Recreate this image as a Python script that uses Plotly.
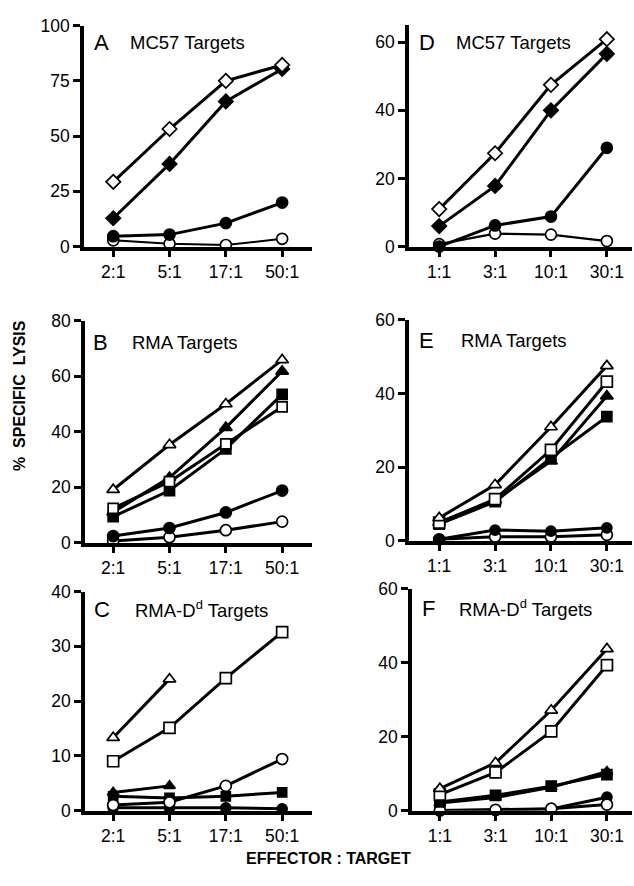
import plotly.graph_objects as go

# ---- tick labels (effector : target ratios) ----
ratios_left = ["2:1", "5:1", "17:1", "50:1"]
ratios_right = ["1:1", "3:1", "10:1", "30:1"]

# ---- Panel A: MC57 targets ----
A_open_diamond = [29.3, 53.2, 75.0, 82.2]
A_filled_diamond = [12.8, 37.4, 65.7, 80.4]
A_filled_circle = [4.7, 5.4, 10.6, 19.9]
A_open_circle = [2.8, 1.3, 0.7, 3.5]

# ---- Panel B: RMA targets ----
B_open_triangle = [19.1, 35.3, 50.0, 65.9]
B_filled_triangle = [11.0, 23.5, 41.5, 61.8]
B_filled_square = [9.4, 18.8, 33.8, 53.5]
B_open_square = [12.4, 22.0, 35.6, 49.0]
B_filled_circle = [2.4, 5.3, 10.9, 18.8]
B_open_circle = [0.6, 2.0, 4.5, 7.6]

# ---- Panel C: RMA-Dd targets ----
C_open_triangle = [13.3, 24.0]
C_open_square = [9.0, 15.1, 24.2, 32.6]
C_open_circle = [1.0, 1.5, 4.5, 9.4]
C_filled_triangle = [3.3, 4.5]
C_filled_square = [2.6, 2.3, 2.6, 3.3]
C_filled_circle = [0.5, 0.5, 0.5, 0.3]

# ---- Panel D: MC57 targets ----
D_open_diamond = [11.0, 27.4, 47.5, 60.9]
D_filled_diamond = [6.0, 17.8, 40.0, 56.6]
D_filled_circle = [0.0, 6.2, 8.8, 29.0]
D_open_circle = [0.7, 3.8, 3.5, 1.6]

# ---- Panel E: RMA targets ----
E_open_triangle = [6.2, 15.2, 30.9, 47.5]
E_open_square = [4.9, 11.3, 24.7, 43.2]
E_filled_triangle = [5.0, 11.0, 21.6, 39.3]
E_filled_square = [4.5, 10.6, 22.5, 33.7]
E_filled_circle = [0.4, 2.9, 2.6, 3.5]
E_open_circle = [0.4, 1.1, 1.1, 1.6]

# ---- Panel F: RMA-Dd targets ----
F_open_triangle = [5.9, 12.9, 27.1, 43.7]
F_open_square = [4.3, 10.3, 21.4, 39.3]
F_filled_triangle = [2.0, 3.5, 6.3, 10.5]
F_filled_square = [2.3, 4.1, 6.6, 9.7]
F_filled_circle = [0.0, 0.0, 0.4, 3.6]
F_open_circle = [0.0, 0.2, 0.5, 1.6]

W, H = 634, 886
FONT = "Liberation Sans, Arial, Helvetica, sans-serif"

fig = go.Figure()


def add(x, y, symbol, filled, ax, size=9, lw=3):
    fig.add_trace(go.Scatter(
        x=x, y=y, mode="lines+markers",
        xaxis="x" + ax, yaxis="y" + ax,
        line=dict(color="black", width=lw),
        marker=dict(symbol=symbol, size=size,
                    color="black" if filled else "white",
                    line=dict(color="black", width=1.7)),
        cliponaxis=False, showlegend=False, hoverinfo="skip"))


# Panel A (axes 1)
add(ratios_left, A_open_circle, "circle", False, "", size=11, lw=2.0)
add(ratios_left, A_filled_circle, "circle", True, "", size=11)
add(ratios_left, A_filled_diamond, "diamond", True, "", size=11)
add(ratios_left, A_open_diamond, "diamond", False, "", size=11)

# Panel B (axes 2)
add(ratios_left, B_open_circle, "circle", False, "2", size=11)
add(ratios_left, B_filled_circle, "circle", True, "2", size=11)
add(ratios_left, B_filled_square, "square", True, "2", size=10)
add(ratios_left, B_filled_triangle, "triangle-up", True, "2", size=11)
add(ratios_left, B_open_square, "square", False, "2", size=10)
add(ratios_left, B_open_triangle, "triangle-up", False, "2", size=11)

# Panel C (axes 3)
add(ratios_left, C_filled_circle, "circle", True, "3", size=10)
add(ratios_left, C_filled_square, "square", True, "3", size=9)
add(ratios_left[:2], C_filled_triangle, "triangle-up", True, "3", size=10)
add(ratios_left, C_open_circle, "circle", False, "3", size=11)
add(ratios_left, C_open_square, "square", False, "3", size=11)
add(ratios_left[:2], C_open_triangle, "triangle-up", False, "3", size=11)

# Panel D (axes 4)
add(ratios_right, D_open_circle, "circle", False, "4", size=11, lw=2.2)
add(ratios_right, D_filled_circle, "circle", True, "4", size=11)
add(ratios_right, D_filled_diamond, "diamond", True, "4", size=11)
add(ratios_right, D_open_diamond, "diamond", False, "4", size=11)

# Panel E (axes 5)
add(ratios_right, E_open_circle, "circle", False, "5", size=11)
add(ratios_right, E_filled_circle, "circle", True, "5", size=10)
add(ratios_right, E_filled_square, "square", True, "5", size=10)
add(ratios_right, E_filled_triangle, "triangle-up", True, "5", size=11)
add(ratios_right, E_open_square, "square", False, "5", size=11)
add(ratios_right, E_open_triangle, "triangle-up", False, "5", size=11)

# Panel F (axes 6)
add(ratios_right, F_filled_circle, "circle", True, "6", size=10)
add(ratios_right, F_open_circle, "circle", False, "6", size=11)
add(ratios_right, F_filled_triangle, "triangle-up", True, "6", size=10)
add(ratios_right, F_filled_square, "square", True, "6", size=10)
add(ratios_right, F_open_square, "square", False, "6", size=11)
add(ratios_right, F_open_triangle, "triangle-up", False, "6", size=11)


def px_x(a, b):
    return [a / W, b / W]


def px_y(bottom, top):
    return [(H - bottom) / H, (H - top) / H]


axis_common = dict(showgrid=False, zeroline=False, showline=True,
                   linecolor="black", linewidth=3.5, ticks="outside",
                   ticklen=7, tickwidth=2.5, tickcolor="black",
                   tickfont=dict(family=FONT, size=17.5, color="black"),
                   fixedrange=True)

panels = [
    # suffix, x-domain px, y-domain px (bottom, top), yrange, dtick, xrange
    ("", (84, 312), (242, 16), [0, 100], 25, [-0.52, 3.53]),
    ("2", (85, 312), (545, 318), [0, 80], 20, [-0.5, 3.53]),
    ("3", (85, 312), (819, 595), [0, 40], 10, [-0.5, 3.53]),
    ("4", (409, 632), (242, 15.6), [0, 65], 20, [-0.54, 3.45]),
    ("5", (409, 632), (543, 317), [0, 60], 20, [-0.54, 3.45]),
    ("6", (412, 632), (819, 592), [0, 60], 20, [-0.5, 3.45]),
]

layout = dict(width=W, height=H, margin=dict(l=0, r=0, t=0, b=0),
              paper_bgcolor="white", plot_bgcolor="white",
              font=dict(family=FONT, color="black"), showlegend=False)

for suf, xd, yd, yr, dt, xr in panels:
    layout["xaxis" + suf] = dict(axis_common, domain=px_x(*xd),
                                 anchor="y" + suf, type="category",
                                 range=xr, ticklabelstandoff=0)
    layout["yaxis" + suf] = dict(axis_common, domain=px_y(*yd),
                                 anchor="x" + suf, range=yr, dtick=dt,
                                 tick0=0, ticklabelstandoff=0)

fig.update_layout(**layout)

# panel letters and titles
labels = [
    ("A", 92, 33, "MC57 Targets", 128, 33),
    ("B", 91, 340, "RMA Targets", 130, 340),
    ("C", 92, 613, "RMA-D<sup>d</sup> Targets", 133, 613),
    ("D", 417, 33, "MC57 Targets", 454, 33),
    ("E", 417, 338, "RMA Targets", 459, 338),
    ("F", 420, 612, "RMA-D<sup>d</sup> Targets", 457, 612),
]
for let, lx, ly, title, tx, ty in labels:
    fig.add_annotation(text=let, x=lx / W, y=(H - ly) / H, xref="paper",
                       yref="paper", xanchor="left", yanchor="middle",
                       showarrow=False, font=dict(family=FONT, size=22))
    fig.add_annotation(text=title, x=tx / W, y=(H - ty) / H, xref="paper",
                       yref="paper", xanchor="left", yanchor="middle",
                       showarrow=False, font=dict(family=FONT, size=18.5))

fig.add_annotation(text="<b>%  SPECIFIC  LYSIS</b>", x=19 / W,
                   y=(H - 395) / H, xref="paper", yref="paper",
                   xanchor="center", yanchor="middle",
                   textangle=-90, showarrow=False,
                   font=dict(family=FONT, size=16))
fig.add_annotation(text="<b>EFFECTOR : TARGET</b>", x=328 / W,
                   y=(H - 868) / H, xref="paper", yref="paper",
                   xanchor="center", yanchor="middle",
                   showarrow=False, font=dict(family=FONT, size=16))

fig.write_html(
    "out.html",
    config={"displayModeBar": False},
    post_script="document.body.style.margin='0';"
                "document.body.style.overflow='hidden';")
